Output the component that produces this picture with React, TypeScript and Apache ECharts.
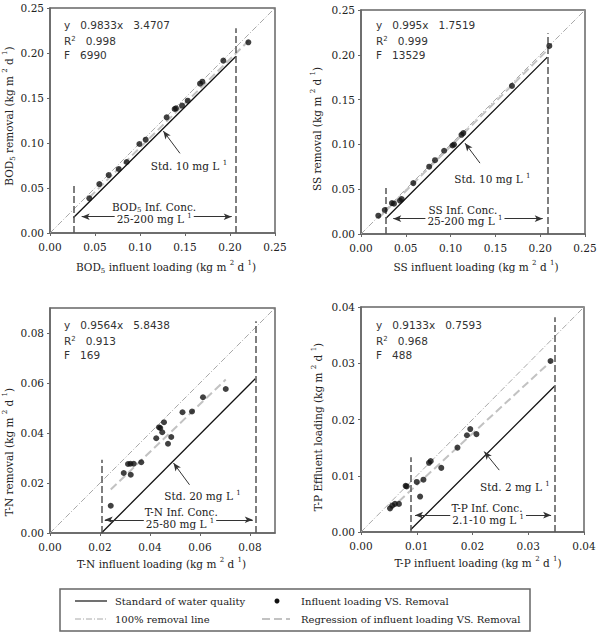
import React, { useEffect, useRef } from 'react';
import * as echarts from 'echarts';

const SERIF = '"DejaVu Serif", serif';
const SANS = '"DejaVu Sans", sans-serif';

// Influent loading vs. removal, kg m-2 d-1
const bodPoints = [
  [0.0437, 0.0385], [0.0548, 0.0544], [0.0652, 0.0644], [0.0763, 0.0711], [0.0852, 0.0789],
  [0.0993, 0.0989], [0.1063, 0.1037], [0.1296, 0.1285], [0.1385, 0.1378], [0.14, 0.1385],
  [0.1467, 0.1415], [0.153, 0.147], [0.1667, 0.1659], [0.1693, 0.1681], [0.1926, 0.1915],
  [0.2204, 0.2119],
];
const ssPoints = [
  [0.0193, 0.0204], [0.0265, 0.0268], [0.0345, 0.0345], [0.0368, 0.0338], [0.0435, 0.0371],
  [0.0454, 0.039], [0.0584, 0.0568], [0.0761, 0.0751], [0.0826, 0.0824], [0.0928, 0.0929],
  [0.1021, 0.0988], [0.1038, 0.0999], [0.1122, 0.1107], [0.1142, 0.1126], [0.1685, 0.1653],
  [0.2102, 0.2099],
];
const tnPoints = [
  [0.0243, 0.0109], [0.0295, 0.024], [0.0323, 0.0233], [0.0312, 0.0276], [0.0322, 0.0277],
  [0.0335, 0.0277], [0.0365, 0.0283], [0.0425, 0.0379], [0.0436, 0.0423], [0.0441, 0.042],
  [0.0449, 0.0403], [0.0456, 0.0443], [0.0472, 0.0357], [0.0485, 0.0384], [0.053, 0.0483],
  [0.0568, 0.0486], [0.0612, 0.0543], [0.0703, 0.0576],
];
const tpPoints = [
  [0.0052, 0.0042], [0.0056, 0.0047], [0.0061, 0.005], [0.0068, 0.005], [0.008, 0.0082],
  [0.0082, 0.0081], [0.01, 0.0089], [0.0106, 0.0063], [0.0112, 0.0093], [0.0122, 0.0123],
  [0.0125, 0.0126], [0.0144, 0.0114], [0.0173, 0.015], [0.019, 0.0172], [0.0196, 0.0183],
  [0.0207, 0.0174], [0.034, 0.0304],
];

// Regression: y = slope * x - intercept * 1e-3
const regSlope = [0.9833, 0.995, 0.9564, 0.9133];
const regIntercept = [3.4707, 1.7519, 5.8438, 0.7593];
const regR2 = ['0.998', '0.999', '0.913', '0.968'];
const regF = ['6990', '13529', '169', '488'];

// Effluent standard lines (start, end)
const stdLines = [
  [[0.0259, 0.017], [0.2067, 0.1963]],
  [[0.0279, 0.0176], [0.208, 0.1974]],
  [[0.0206, 0.0], [0.0821, 0.0617]],
  [[0.0089, 0.0004], [0.0347, 0.0259]],
];
// Influent concentration limits: x position and top of the marker line
const concLimits = [
  [[0.0259, 0.0552], [0.2067, 0.2274]],
  [[0.0279, 0.0513], [0.208, 0.224]],
  [[0.0206, 0.0293], [0.0821, 0.0847]],
  [[0.0089, 0.0133], [0.0347, 0.0382]],
];
// Range arrow: y, x from, x to
const rangeArrows = [
  [0.0181, 0.0352, 0.2019],
  [0.0171, 0.036, 0.2028],
  [0.0053, 0.0219, 0.0811],
  [0.003, 0.0097, 0.0341],
];
const concTitles = ['BOD{sub|5} Inf. Conc.', 'SS Inf. Conc.', 'T-N Inf. Conc.', 'T-P Inf. Conc.'];
const concRanges = ['25-200 mg L {sup|1}', '25-200 mg L {sup|1}', '25-80 mg L {sup|1}', '2.1-10 mg L {sup|1}'];
const concTitlePos = [[0.1156, 0.0286], [0.1138, 0.0264], [0.0525, 0.0083], [0.0226, 0.0043]];
const concRangePos = [[0.1158, 0.0156], [0.116, 0.0141], [0.052, 0.0036], [0.0228, 0.0022]];
const stdTexts = ['Std. 10 mg L {sup|1}', 'Std. 10 mg L {sup|1}', 'Std. 20 mg L {sup|1}', 'Std. 2 mg L {sup|1}'];
const stdTextPos = [[0.1544, 0.0748], [0.1466, 0.0617], [0.061, 0.0149], [0.0276, 0.008]];
const stdPointers = [
  [[0.1444, 0.0885], [0.1259, 0.1133]],
  [[0.1328, 0.0791], [0.1161, 0.1014]],
  [[0.0558, 0.0193], [0.0494, 0.028]],
  [[0.0248, 0.011], [0.0221, 0.0143]],
];

const axisMax = [0.25, 0.25, 0.09, 0.04];
const axisStep = [0.05, 0.05, 0.02, 0.01];
const xNames = [
  'BOD{sub|5} influent loading (kg m {sup|2} d {sup|1})',
  'SS influent loading (kg m {sup|2} d {sup|1})',
  'T-N influent loading (kg m {sup|2} d {sup|1})',
  'T-P influent loading (kg m {sup|2} d {sup|1})',
];
const yNames = [
  'BOD{sub|5} removal (kg m {sup|2} d {sup|1})',
  'SS removal (kg m {sup|2} d {sup|1})',
  'T-N removal (kg m {sup|2} d {sup|1})',
  'T-P Effluent loading (kg m {sup|2} d {sup|1})',
];
const pointSets = [bodPoints, ssPoints, tnPoints, tpPoints];

const grids = [
  { left: 50, top: 8, width: 225, height: 225 },
  { left: 361, top: 10, width: 224, height: 224 },
  { left: 50, top: 308, width: 225, height: 225 },
  { left: 361, top: 307, width: 223, height: 225 },
];
const xNameGap = [26, 25, 23.5, 23.5];
const xNamePad = [[0, 0, 0, 7], [0, 0, 0, 6], [0, 2, 0, 0], [0, 0, 0, 11]];
// vertical axis titles: centre of the rotated text
const yNameCenter = [[9, 116], [317, 129], [8.5, 452], [318, 427]];
const statsPos = [[64, 25], [376, 25], [64, 325], [376, 325]];

const INK = '#222';
const FRAME = '#666';

const richText = {
  sup: { fontSize: 7, verticalAlign: 'top', lineHeight: 8, fontFamily: SERIF, color: INK },
  sub: { fontSize: 7, verticalAlign: 'bottom', lineHeight: 8, fontFamily: SERIF, color: INK },
};

function buildOption() {
  const xAxis: any[] = [];
  const yAxis: any[] = [];
  const series: any[] = [];
  const graphic: any[] = [];

  const axisBase = (i: number) => ({
    gridIndex: i,
    type: 'value',
    min: 0,
    max: axisMax[i],
    interval: axisStep[i],
    splitLine: { show: false },
    axisLine: { show: true, onZero: false, lineStyle: { color: FRAME, width: 1.5 } },
    axisTick: { show: true, length: 3, lineStyle: { color: FRAME } },
    nameLocation: 'middle',
  });

  for (let i = 0; i < 4; i++) {
    const max = axisMax[i];
    const hideMax = Math.abs(max / axisStep[i] - Math.round(max / axisStep[i])) > 1e-6;
    const labelStyle = {
      formatter: (v: number) => v.toFixed(2),
      color: INK,
      fontFamily: SERIF,
      fontSize: 10.5,
      showMaxLabel: !hideMax,
    };
    xAxis.push({
      ...axisBase(i),
      axisLabel: { ...labelStyle, margin: 8 },
      name: xNames[i],
      nameGap: xNameGap[i],
      nameTextStyle: {
        color: INK, fontFamily: SERIF, fontSize: 10.5, lineHeight: 15,
        padding: xNamePad[i], rich: richText,
      },
    });
    yAxis.push({
      ...axisBase(i),
      axisLabel: { ...labelStyle, margin: 6 },
    });

    const [cx, cy] = yNameCenter[i];
    graphic.push({
      type: 'text',
      x: cx,
      y: cy,
      rotation: Math.PI / 2,
      silent: true,
      style: {
        text: yNames[i],
        fill: INK,
        font: `10.5px ${SERIF}`,
        align: 'center',
        verticalAlign: 'middle',
        lineHeight: 15,
        rich: {
          sup: { fontSize: 7, verticalAlign: 'top', lineHeight: 8, fill: INK, fontFamily: SERIF },
          sub: { fontSize: 7, verticalAlign: 'bottom', lineHeight: 8, fill: INK, fontFamily: SERIF },
        },
      },
    });

    const pts = pointSets[i];
    const xs = pts.map((p) => p[0]);
    const xMin = Math.min(...xs);
    const xMax = Math.max(...xs);
    const reg = (x: number) => regSlope[i] * x - regIntercept[i] * 1e-3;

    series.push({
      name: '100% removal line',
      type: 'line',
      xAxisIndex: i,
      yAxisIndex: i,
      data: [[0, 0], [max, max]],
      symbol: 'none',
      silent: true,
      lineStyle: { color: '#a8a8a8', width: 1, type: [6, 2, 1, 2] },
      z: 2,
    });
    series.push({
      name: 'Regression of influent loading VS. Removal',
      type: 'line',
      xAxisIndex: i,
      yAxisIndex: i,
      data: [[xMin, reg(xMin)], [xMax, reg(xMax)]],
      symbol: 'none',
      silent: true,
      lineStyle: { color: '#c2c2c2', width: 2, type: [8, 4] },
      z: 2,
    });
    series.push({
      name: 'Standard of water quality',
      type: 'line',
      xAxisIndex: i,
      yAxisIndex: i,
      data: stdLines[i],
      symbol: 'none',
      silent: true,
      lineStyle: { color: '#111', width: 1.3 },
      z: 3,
    });

    const limitStyle = { color: '#555', width: 1.5, type: [7, 3] };
    const arrowStyle = { color: '#333', width: 1, type: 'solid' };
    const [ay, ax1, ax2] = rangeArrows[i];
    series.push({
      name: 'Influent loading VS. Removal',
      type: 'scatter',
      xAxisIndex: i,
      yAxisIndex: i,
      data: pts,
      symbol: 'circle',
      symbolSize: 6,
      itemStyle: { color: '#111' },
      silent: true,
      z: 5,
      markLine: {
        silent: true,
        symbol: 'none',
        label: { show: false },
        emphasis: { disabled: true },
        data: [
          ...concLimits[i].map(([x, top]) => [
            { coord: [x, 0], lineStyle: limitStyle },
            { coord: [x, top], lineStyle: limitStyle },
          ]),
          [
            { coord: [ax1, ay], symbol: 'arrow', symbolSize: [5, 8], lineStyle: arrowStyle },
            { coord: [ax2, ay], symbol: 'arrow', symbolSize: [5, 8], lineStyle: arrowStyle },
          ],
          [
            { coord: stdPointers[i][0], symbol: 'none', lineStyle: arrowStyle },
            { coord: stdPointers[i][1], symbol: 'arrow', symbolSize: [5, 8], lineStyle: arrowStyle },
          ],
        ],
      },
      markPoint: {
        silent: true,
        symbol: 'circle',
        symbolSize: 0,
        itemStyle: { color: 'transparent' },
        label: {
          show: true,
          position: 'inside',
          color: INK,
          fontFamily: SERIF,
          fontSize: 10.5,
          lineHeight: 13,
          rich: richText,
        },
        data: [
          { coord: concTitlePos[i], value: 0, label: { formatter: concTitles[i] } },
          {
            coord: concRangePos[i],
            value: 0,
            label: { formatter: concRanges[i], backgroundColor: '#fff', padding: [0, 2] },
          },
          { coord: stdTextPos[i], value: 0, label: { formatter: stdTexts[i] } },
        ],
      },
    });

    // regression statistics
    const [sx, sy] = statsPos[i];
    const statLines = [
      `y   ${regSlope[i]}x   ${regIntercept[i].toFixed(4)}`,
      `R{sup|2}   ${regR2[i]}`,
      `F   ${regF[i]}`,
    ];
    const rowY = [0, 15.5, 29.5];
    statLines.forEach((t, k) => {
      graphic.push({
        type: 'text',
        x: sx,
        y: sy + rowY[k],
        silent: true,
        style: {
          text: t,
          fill: '#333',
          font: `10.5px ${SANS}`,
          verticalAlign: 'middle',
          rich: { sup: { fontSize: 7, verticalAlign: 'top', lineHeight: 7, fill: '#333', fontFamily: SANS } },
        },
      });
    });
  }

  // legend
  const legendFont = `10px ${SERIF}`;
  const r1 = 601;
  const r2 = 619;
  graphic.push(
    {
      type: 'rect',
      shape: { x: 60, y: 589, width: 470, height: 42 },
      style: { fill: '#fff', stroke: FRAME, lineWidth: 1.5 },
      silent: true,
    },
    { type: 'line', shape: { x1: 75, y1: r1, x2: 107, y2: r1 }, style: { stroke: '#111', lineWidth: 1.2 } },
    { type: 'text', x: 115, y: r1, style: { text: 'Standard of water quality', font: legendFont, fill: INK, verticalAlign: 'middle' } },
    { type: 'circle', shape: { cx: 277, cy: r1, r: 2.5 }, style: { fill: '#111' } },
    { type: 'text', x: 301, y: r1, style: { text: 'Influent loading VS. Removal', font: legendFont, fill: INK, verticalAlign: 'middle' } },
    { type: 'line', shape: { x1: 75, y1: r2, x2: 107, y2: r2 }, style: { stroke: '#a8a8a8', lineWidth: 1, lineDash: [6, 2, 1, 2] } },
    { type: 'text', x: 115, y: r2, style: { text: '100% removal line', font: legendFont, fill: INK, verticalAlign: 'middle' } },
    { type: 'line', shape: { x1: 262, y1: r2, x2: 290, y2: r2 }, style: { stroke: '#c2c2c2', lineWidth: 2, lineDash: [8, 4] } },
    { type: 'text', x: 301, y: r2, style: { text: 'Regression of influent loading VS. Removal', font: legendFont, fill: INK, verticalAlign: 'middle' } },
  );

  return {
    animation: false,
    backgroundColor: '#fff',
    grid: grids.map((g) => ({ ...g, show: true, borderColor: FRAME, borderWidth: 1.5, backgroundColor: 'transparent', containLabel: false })),
    xAxis,
    yAxis,
    series,
    graphic,
  };
}

export default function App() {
  const ref = useRef<HTMLDivElement>(null);
  useEffect(() => {
    if (!ref.current) return;
    const chart = echarts.init(ref.current, undefined, { renderer: 'svg' });
    chart.setOption(buildOption() as any);
    return () => chart.dispose();
  }, []);
  return (
    <div
      ref={ref}
      style={{ position: 'absolute', left: 0, top: 0, width: 600, height: 633, background: '#fff' }}
    />
  );
}
